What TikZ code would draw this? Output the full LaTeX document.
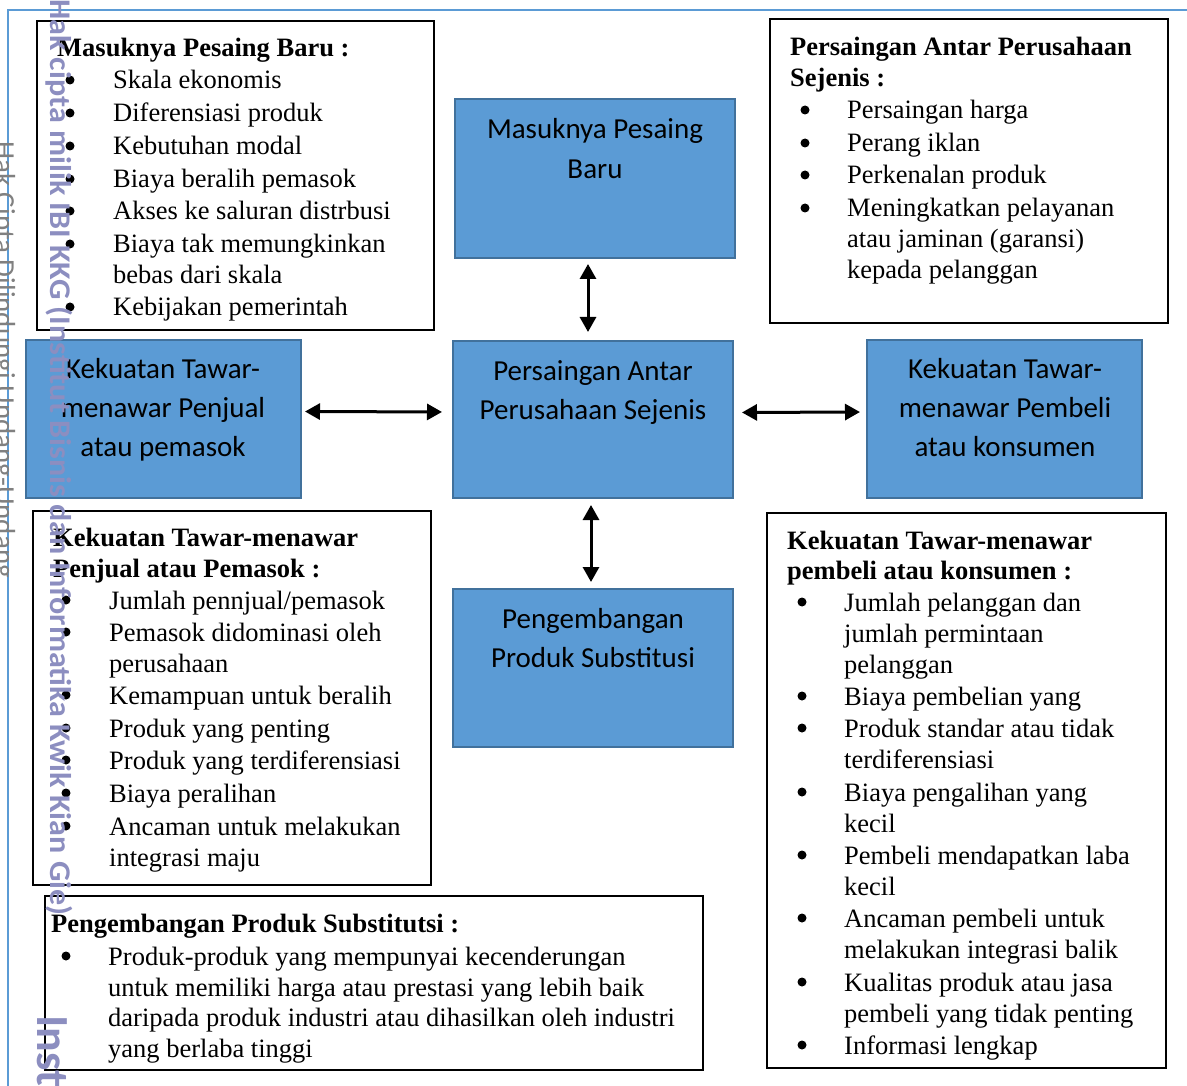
\documentclass[tikz,border=0pt]{standalone}
\usepackage{fontspec}
\setmainfont{Liberation Serif}
\newfontfamily\calfont{Carlito}
\usetikzlibrary{arrows.meta}
\definecolor{boxblue}{HTML}{5B9BD5}
\definecolor{boxedge}{HTML}{41719C}
\definecolor{frameblue}{HTML}{5B9BD5}
\definecolor{wmark}{RGB}{140,142,192}
\newcounter{nn}
\newcommand\tl[3]{\stepcounter{nn}\node[txt] (t\arabic{nn}) at (#1,#2) {#3};}
\newcommand\tb[3]{\stepcounter{nn}\node[txt,font=\fontsize{26.5}{32}\selectfont\bfseries] (h\arabic{nn}) at (#1,#2) {#3};}
\newcommand\bu[2]{\stepcounter{nn}\node[bul] (b\arabic{nn}) at (#1,#2-9) {};}
\newcommand\cl[3]{\stepcounter{nn}\node[ctxt] (c\arabic{nn}) at (#1,#2) {#3};}
\begin{document}
\begin{tikzpicture}[x=1pt,y=-1pt,
  txt/.style={anchor=base west,inner sep=0pt,font=\fontsize{26.5}{32}\selectfont},
  bul/.style={circle,fill=black,inner sep=0pt,minimum size=9pt},
  ctxt/.style={anchor=base,inner sep=0pt,font=\calfont\fontsize{29}{39}\selectfont},
  tbox/.style={draw=black,line width=1.1pt,anchor=north west,inner sep=0pt,outer sep=0pt},
  bbox/.style={draw=boxedge,fill=boxblue,line width=2.4pt,anchor=north west,inner sep=0pt,outer sep=0pt},
  link/.style={{Triangle[length=15pt,width=16pt]}-{Triangle[length=15pt,width=16pt]},line width=3pt,black},
  wm/.style={anchor=base west,inner sep=0pt,rotate=-90,text=wmark}]
\useasboundingbox (0,0) rectangle (1187,1086);
\fill[white] (0,0) rectangle (1187,1086);
% page frame
\draw[frameblue,line width=2.5pt] (8,1090) -- (8,10) -- (1190,10);

% ---- text boxes
\node[tbox,minimum width=397pt,minimum height=309pt] (boxA) at (37,21) {};
\node[tbox,minimum width=398pt,minimum height=304pt] (boxB) at (770,19) {};
\node[tbox,minimum width=398pt,minimum height=374pt] (boxC) at (33,511) {};
\node[tbox,minimum width=658pt,minimum height=174pt] (boxD) at (45,896) {};
\node[tbox,minimum width=399pt,minimum height=555pt] (boxE) at (767,513) {};

% ---- blue boxes
\node[bbox,minimum width=280pt,minimum height=159pt] (masuk) at (455,99) {};
\node[bbox,minimum width=280pt,minimum height=157pt] (pers) at (453,341) {};
\node[bbox,minimum width=275pt,minimum height=158pt] (jual) at (26,340) {};
\node[bbox,minimum width=275pt,minimum height=158pt] (beli) at (867,340) {};
\node[bbox,minimum width=280pt,minimum height=158pt] (subs) at (453,589) {};

\cl{595}{139}{Masuknya Pesaing}
\cl{595}{179}{Baru}
\cl{593}{380}{Persaingan Antar}
\cl{593}{419}{Perusahaan Sejenis}
\cl{163}{378}{Kekuatan Tawar-}
\cl{163}{417}{menawar Penjual}
\cl{163}{456}{atau pemasok}
\cl{1005}{378}{Kekuatan Tawar-}
\cl{1005}{417}{menawar Pembeli}
\cl{1005}{456}{atau konsumen}
\cl{593}{628}{Pengembangan}
\cl{593}{667}{Produk Substitusi}

% ---- arrows
\draw[link,shorten <=6pt,shorten >=9pt] ([xshift=-7pt]masuk.south) -- ([xshift=-5pt]pers.north);
\draw[link,shorten <=4pt,shorten >=11pt] ([yshift=7.5pt]jual.east) -- ([yshift=7.5pt]pers.west);
\draw[link,shorten <=9pt,shorten >=7pt] ([yshift=7pt]pers.east) -- ([yshift=7pt]beli.west);
\draw[link,shorten <=7pt,shorten >=7pt] ([xshift=-2pt]pers.south) -- ([xshift=-2pt]subs.north);

% ---- box A
\tb{57}{57}{Masuknya Pesaing Baru :}
\bu{70}{89}\tl{113}{89}{Skala ekonomis}
\bu{70}{122}\tl{113}{122}{Diferensiasi produk}
\bu{70}{155}\tl{113}{155}{Kebutuhan modal}
\bu{70}{188}\tl{113}{188}{Biaya beralih pemasok}
\bu{70}{220}\tl{113}{220}{Akses ke saluran distrbusi}
\bu{70}{253}\tl{113}{253}{Biaya tak memungkinkan}
\tl{113}{284}{bebas dari skala}
\bu{70}{316}\tl{113}{316}{Kebijakan pemerintah}

% ---- box B
\tb{790}{56}{Persaingan Antar Perusahaan}
\tb{790}{87}{Sejenis :}
\bu{805}{119}\tl{847}{119}{Persaingan harga}
\bu{805}{152}\tl{847}{152}{Perang iklan}
\bu{805}{184}\tl{847}{184}{Perkenalan produk}
\bu{805}{217}\tl{847}{217}{Meningkatkan pelayanan}
\tl{847}{248}{atau jaminan (garansi)}
\tl{847}{279}{kepada pelanggan}

% ---- box C
\tb{53}{546}{Kekuatan Tawar-menawar}
\tb{53}{577}{Penjual atau Pemasok :}
\bu{66}{609}\tl{109}{609}{Jumlah pennjual/pemasok}
\bu{66}{641}\tl{109}{641}{Pemasok didominasi oleh}
\tl{109}{672}{perusahaan}
\bu{66}{704}\tl{109}{704}{Kemampuan untuk beralih}
\bu{66}{737}\tl{109}{737}{Produk yang penting}
\bu{66}{769}\tl{109}{769}{Produk yang terdiferensiasi}
\bu{66}{802}\tl{109}{802}{Biaya peralihan}
\bu{66}{835}\tl{109}{835}{Ancaman untuk melakukan}
\tl{109}{866}{integrasi maju}

% ---- box D
\tb{51}{932}{Pengembangan Produk Substitutsi :}
\bu{66}{965}\tl{108}{965}{Produk-produk yang mempunyai kecenderungan}
\tl{108}{996}{untuk memiliki harga atau prestasi yang lebih baik}
\tl{108}{1026}{daripada produk industri atau dihasilkan oleh industri}
\tl{108}{1057}{yang berlaba tinggi}

% ---- box E
\tb{787}{549}{Kekuatan Tawar-menawar}
\tb{787}{579}{pembeli atau konsumen :}
\bu{802}{611}\tl{844}{611}{Jumlah pelanggan dan}
\tl{844}{642}{jumlah permintaan}
\tl{844}{673}{pelanggan}
\bu{802}{705}\tl{844}{705}{Biaya pembelian yang}
\bu{802}{737}\tl{844}{737}{Produk standar atau tidak}
\tl{844}{768}{terdiferensiasi}
\bu{802}{801}\tl{844}{801}{Biaya pengalihan yang}
\tl{844}{832}{kecil}
\bu{802}{864}\tl{844}{864}{Pembeli mendapatkan laba}
\tl{844}{895}{kecil}
\bu{802}{927}\tl{844}{927}{Ancaman pembeli untuk}
\tl{844}{958}{melakukan integrasi balik}
\bu{802}{991}\tl{844}{991}{Kualitas produk atau jasa}
\tl{844}{1022}{pembeli yang tidak penting}
\bu{802}{1054}\tl{844}{1054}{Informasi lengkap}

% ---- watermarks
\node[wm,text=black!50,font=\calfont\fontsize{29}{29}\selectfont] (wm1) at (-5,141) {Hak Cipta Dilindungi Undang-Undang};
\node[wm,xscale=1.07,font=\calfont\bfseries\fontsize{30}{30}\selectfont] (wm2) at (50,-1) {Hak cipta milik IBI KKG (Institut Bisnis dan Informatika Kwik Kian Gie)};
\node[wm,font=\calfont\bfseries\fontsize{46}{46}\selectfont] (wm3) at (37,1015) {Institut};
\end{tikzpicture}
\end{document}
